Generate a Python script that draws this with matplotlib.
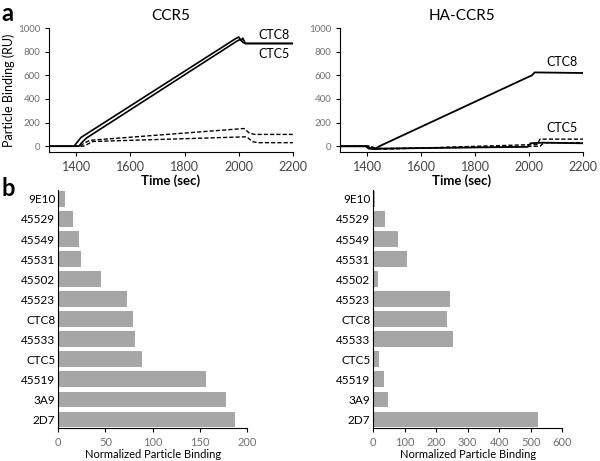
import matplotlib.pyplot as plt

plt.rcParams['font.family'] = ['Lato', 'DejaVu Sans']

# panel a, CCR5 sensorgrams (time in sec, response in RU)
ccr5_ctc8_t = [1300, 1392, 1402, 1418, 1988, 2000, 2008, 2015, 2025, 2200]
ccr5_ctc8_y = [0, 0, 30, 75, 910, 925, 895, 915, 870, 870]
ccr5_ctc5_t = [1300, 1410, 1420, 1438, 1997, 2007, 2015, 2025, 2200]
ccr5_ctc5_y = [0, 0, 30, 70, 895, 905, 880, 870, 870]
ccr5_ctl1_t = [1300, 1415, 1425, 1450, 2020, 2040, 2060, 2200]
ccr5_ctl1_y = [0, 0, 20, 50, 150, 110, 100, 100]
ccr5_ctl2_t = [1300, 1425, 1440, 1460, 2030, 2050, 2070, 2200]
ccr5_ctl2_y = [0, 0, 15, 40, 80, 40, 30, 30]

# panel a, HA-CCR5 sensorgrams
ha_ctc8_t = [1300, 1400, 1410, 1430, 1445, 2000, 2010, 2020, 2200]
ha_ctc8_y = [0, 0, -15, -20, 0, 590, 600, 625, 620]
ha_ctc5_t = [1300, 1395, 1405, 1430, 1450, 1995, 2005, 2050, 2200]
ha_ctc5_y = [0, 0, -20, -25, -20, -5, 25, 30, 25]
ha_ctl1_t = [1300, 1410, 1430, 1460, 2030, 2040, 2200]
ha_ctl1_y = [0, 0, -20, -25, 15, 60, 60]
ha_ctl2_t = [1300, 1410, 1430, 1460, 2040, 2055, 2200]
ha_ctl2_y = [0, 0, -15, -20, 0, 30, 30]

# panel b, normalized particle binding (top to bottom)
antibodies = ['9E10', '45529', '45549', '45531', '45502', '45523',
              'CTC8', '45533', 'CTC5', '45519', '3A9', '2D7']
ccr5_binding = [7, 16, 22.5, 24, 45.5, 72.5, 79, 81, 88.5, 156, 178, 187]
ha_binding = [7, 36, 80, 106, 16, 243, 234, 254, 17, 33, 48, 524]

tick_grey = '#707070'

fig = plt.figure(figsize=(6, 4.61), dpi=100)


def style_curve_axes(ax, title, ylabel=None):
    ax.set_xlim(1300, 2200)
    ax.set_ylim(-50, 1000)
    ax.set_xticks([1400, 1600, 1800, 2000, 2200])
    ax.set_yticks([0, 200, 400, 600, 800, 1000])
    for s in ['top', 'right']:
        ax.spines[s].set_visible(False)
    ax.tick_params(axis='x', labelsize=9, labelcolor='#444444', length=3, direction='out')
    ax.tick_params(axis='y', labelsize=7, labelcolor=tick_grey, length=3, direction='out')
    ax.set_xlabel('Time (sec)', fontsize=9.5, fontweight='bold', labelpad=1)
    ax.set_title(title, fontsize=11, pad=6)
    if ylabel:
        ax.set_ylabel(ylabel, fontsize=9, labelpad=2)


ax1 = fig.add_axes([0.082, 0.670, 0.406, 0.269])
ax1.plot(ccr5_ctc8_t, ccr5_ctc8_y, color='black', lw=1.2)
ax1.plot(ccr5_ctc5_t, ccr5_ctc5_y, color='black', lw=1.2)
ax1.plot(ccr5_ctl1_t, ccr5_ctl1_y, color='black', lw=1.0, ls=(0, (3, 1.5)))
ax1.plot(ccr5_ctl2_t, ccr5_ctl2_y, color='black', lw=1.0, ls=(0, (3, 1.5)))
ax1.text(2190, 895, 'CTC8', ha='right', va='bottom', fontsize=9)
ax1.text(2190, 830, 'CTC5', ha='right', va='top', fontsize=9)
style_curve_axes(ax1, 'CCR5', 'Particle Binding (RU)')

ax2 = fig.add_axes([0.567, 0.670, 0.405, 0.269])
ax2.plot(ha_ctc8_t, ha_ctc8_y, color='black', lw=1.3)
ax2.plot(ha_ctc5_t, ha_ctc5_y, color='black', lw=1.3)
ax2.plot(ha_ctl1_t, ha_ctl1_y, color='black', lw=1.0, ls=(0, (3, 1.5)))
ax2.plot(ha_ctl2_t, ha_ctl2_y, color='black', lw=1.0, ls=(0, (3, 1.5)))
ax2.text(2180, 660, 'CTC8', ha='right', va='bottom', fontsize=9)
ax2.text(2180, 100, 'CTC5', ha='right', va='bottom', fontsize=9)
style_curve_axes(ax2, 'HA-CCR5')


def style_bar_axes(ax, xmax, xticks):
    ax.set_xlim(0, xmax)
    ax.set_ylim(11.42, -0.45)
    ax.set_xticks(xticks)
    ax.set_yticks(range(len(antibodies)))
    ax.set_yticklabels(antibodies)
    for s in ['top', 'right']:
        ax.spines[s].set_visible(False)
    ax.tick_params(axis='y', length=0, labelsize=8.5, pad=2)
    ax.tick_params(axis='x', labelsize=8, labelcolor=tick_grey, length=3, direction='out')
    ax.set_xlabel('Normalized Particle Binding', fontsize=8, labelpad=1)


ax3 = fig.add_axes([0.097, 0.072, 0.315, 0.516])
ax3.barh(range(len(antibodies)), ccr5_binding, height=0.78, color='#a6a6a6')
style_bar_axes(ax3, 200, [0, 50, 100, 150, 200])

ax4 = fig.add_axes([0.622, 0.072, 0.315, 0.516])
ax4.barh(range(len(antibodies)), ha_binding, height=0.78, color='#a6a6a6')
style_bar_axes(ax4, 600, [0, 100, 200, 300, 400, 500, 600])

fig.text(0.003, 0.995, 'a', fontsize=17, fontweight='bold', va='top', ha='left')
fig.text(0.003, 0.615, 'b', fontsize=17, fontweight='bold', va='top', ha='left')

fig.savefig('out.png', dpi=100)
